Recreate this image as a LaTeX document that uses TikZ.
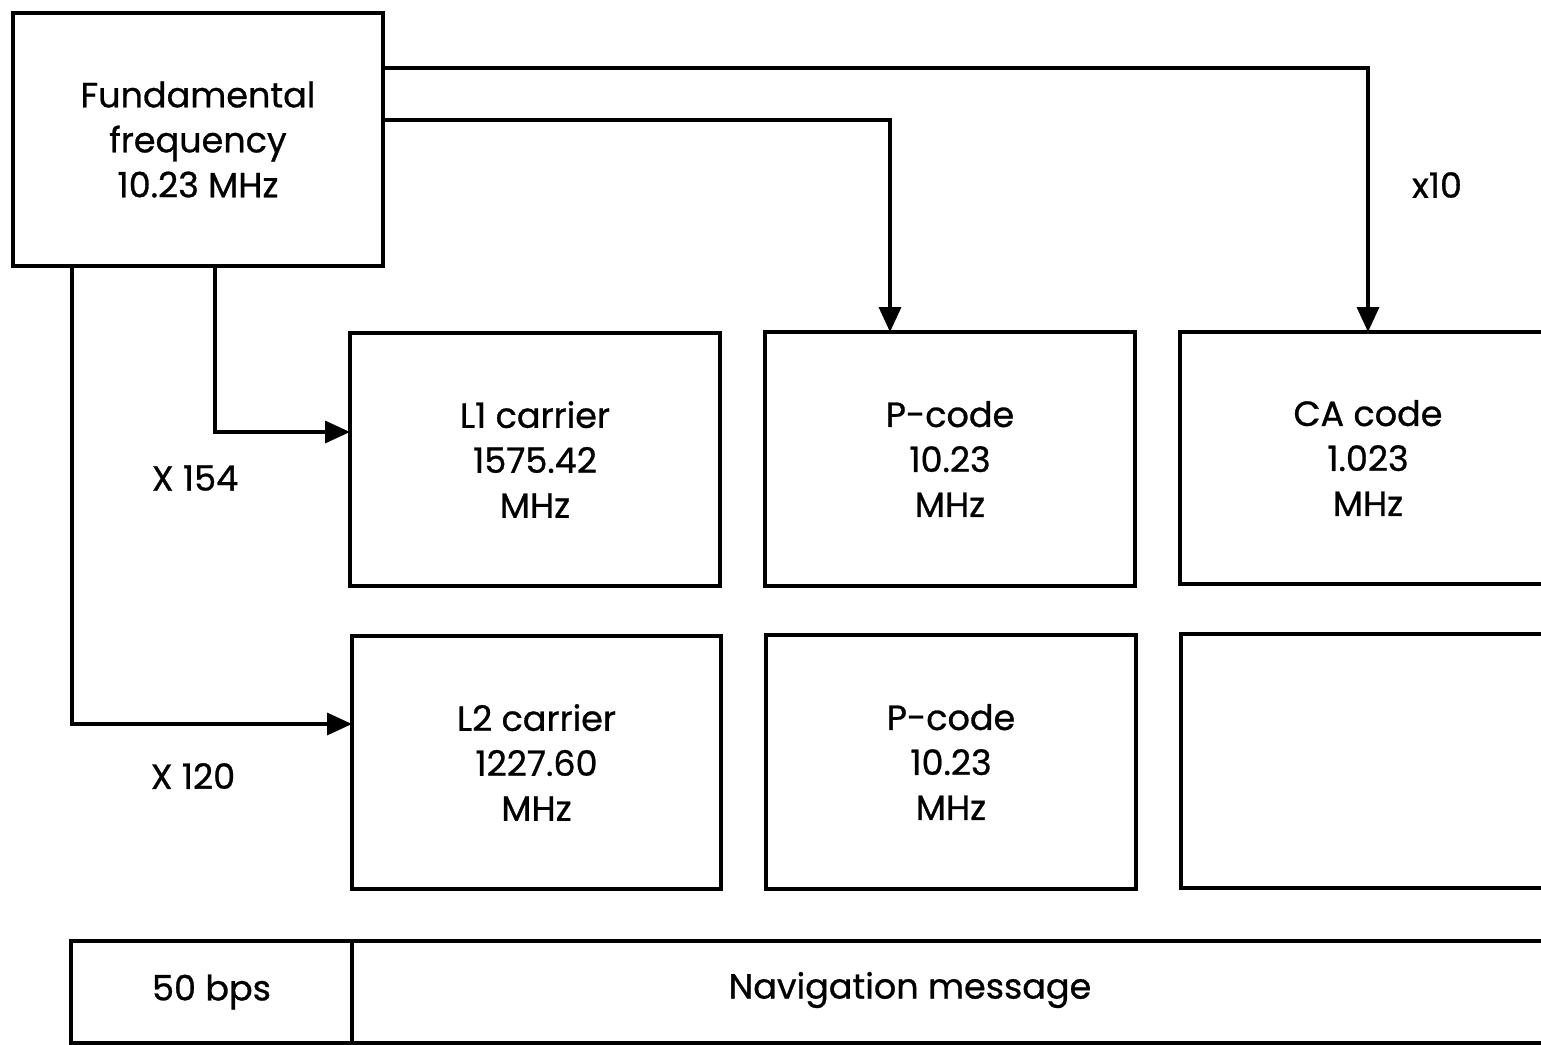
\documentclass[tikz,border=0pt]{standalone}
\usepackage{fontspec}
\setmainfont{Poppins}[FakeBold=0.8]
\usetikzlibrary{arrows.meta}
\begin{document}
\begin{tikzpicture}[x=1pt,y=-1pt,
  box/.style={draw, line width=3.4pt, outer sep=0pt, align=center, inner sep=0pt, font=\fontsize{35}{45}\selectfont},
  lbl/.style={font=\fontsize{35}{40}\selectfont, inner sep=0pt},
  conn/.style={line width=3.4pt, -{Triangle[length=25pt,width=22pt]}}]
\useasboundingbox (0,0) rectangle (1541,1044);
\clip (0,0) rectangle (1541,1044);
\fill[white] (0,0) rectangle (1541,1044);
% boxes
\node[box, minimum width=370pt, minimum height=253pt] (fund) at (198,139.5) {Fundamental\\frequency\\10.23 MHz};
\node[box, minimum width=370pt, minimum height=253pt] (l1) at (535,459.5) {L1 carrier\\1575.42\\MHz};
\node[box, minimum width=370pt, minimum height=254pt] (pc1) at (950,459) {P-code\\10.23\\MHz};
\node[box, minimum width=376pt, minimum height=252pt] (ca) at (1368,458) {CA code\\1.023\\MHz};
\node[box, minimum width=369pt, minimum height=253pt] (l2) at (536.5,762.5) {L2 carrier\\1227.60\\MHz};
\node[box, minimum width=370pt, minimum height=254pt] (pc2) at (951,762) {P-code\\10.23\\MHz};
\node[box, minimum width=376pt, minimum height=254pt] (emp) at (1369,761) {};
\node[box, minimum width=281pt, minimum height=102pt] (bps) at (211.5,992) {50 bps};
\node[box, minimum width=1208pt, minimum height=102pt, anchor=west] (nav) at (bps.east) {};
\node[lbl] (navtxt) at (910,990) {Navigation message};
% connectors
\draw[conn] (fund.east |- 0,68) -| (ca.north);
\draw[conn] (fund.east |- 0,120) -| (pc1.north -| 890,0);
\draw[conn] (fund.south -| 215,0) |- (l1.west |- 0,432);
\draw[conn] (fund.south -| 72,0) |- (l2.west |- 0,724);
% labels
\node[lbl] (x10) at (1437,185) {x10};
\node[lbl] (x154) at (195,478) {X 154};
\node[lbl] (x120) at (193,776) {X 120};
\end{tikzpicture}
\end{document}
